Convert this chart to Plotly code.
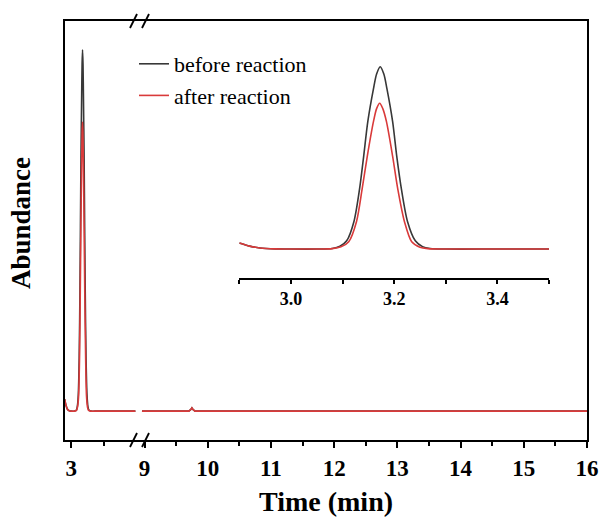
import plotly.graph_objects as go

# ---------------- data ----------------
# peak region, before reaction (black)
t_before = [2.90, 2.92, 2.94, 2.97, 3.00, 3.05, 3.08, 3.095, 3.108, 3.122, 3.133,
            3.141, 3.149, 3.160, 3.166, 3.173, 3.180, 3.186, 3.197, 3.205, 3.214,
            3.226, 3.241, 3.255, 3.27, 3.30, 3.40, 3.50]
a_before = [3.3, 1.6, 0.6, 0.1, 0, 0, 0.3, 1.5, 4.5, 15, 33,
            51, 70, 88, 96, 100, 96, 88, 70, 51, 33,
            15, 4.5, 1.3, 0.3, 0, 0, 0]
# peak region, after reaction (red)
t_after = [2.90, 2.92, 2.94, 2.97, 3.00, 3.05, 3.08, 3.097, 3.112, 3.127, 3.138,
           3.148, 3.160, 3.166, 3.172, 3.178, 3.185, 3.197, 3.207, 3.220, 3.234,
           3.250, 3.265, 3.30, 3.40, 3.50]
a_after = [3.3, 1.6, 0.6, 0.1, 0, 0, 0.2, 1.2, 4, 15, 33,
           51, 70, 77, 80, 77, 70, 51, 33, 15, 4,
           1, 0.2, 0, 0, 0]
# baseline before the axis break
t_tail = [3.6, 3.8, 3.98]
a_tail = [0, 0, 0]
# segment after the axis break (both runs share the baseline)
t_late = [8.96, 9.70, 9.73, 9.75, 9.77, 9.80, 16.0]
a_late = [0, 0, 0.4, 0.9, 0.4, 0, 0]

series_names = ["before reaction", "after reaction"]
inset_ticks = [3.0, 3.2, 3.4]
main_ticks_left = [3]
main_ticks_right = [9, 10, 11, 12, 13, 14, 15, 16]

BLACK = "#383838"
RED = "#d93a3a"
FONT = "Liberation Serif"

# ---------------- geometry helpers ----------------
W, H = 602, 521
ML, MR, MT, MB = 65, 15, 21, 81
PW, PH = W - ML - MR, H - MT - MB


def px(x):
    return (x - ML) / PW


def py(y):
    return (H - MB - y) / PH


BRK = px(139)

fig = go.Figure()

line_b = dict(color=BLACK, width=1.6, shape="spline", smoothing=0.8)
line_r = dict(color=RED, width=1.6, shape="spline", smoothing=0.8)
lin_b = dict(color=BLACK, width=1.6)
lin_r = dict(color=RED, width=1.6)

# main left segment
fig.add_trace(go.Scatter(x=t_before + t_tail, y=a_before + a_tail, mode="lines",
                         line=line_b, name=series_names[0], legendrank=1,
                         xaxis="x", yaxis="y"))
fig.add_trace(go.Scatter(x=t_after + t_tail, y=a_after + a_tail, mode="lines",
                         line=line_r, name=series_names[1], legendrank=2,
                         xaxis="x", yaxis="y"))
# main right segment
fig.add_trace(go.Scatter(x=t_late, y=a_late, mode="lines", line=lin_b,
                         showlegend=False, xaxis="x2", yaxis="y2"))
fig.add_trace(go.Scatter(x=t_late, y=a_late, mode="lines", line=lin_r,
                         showlegend=False, xaxis="x2", yaxis="y2"))
# inset
fig.add_trace(go.Scatter(x=t_before, y=a_before, mode="lines", line=line_b,
                         showlegend=False, xaxis="x3", yaxis="y3"))
fig.add_trace(go.Scatter(x=t_after, y=a_after, mode="lines", line=line_r,
                         showlegend=False, xaxis="x3", yaxis="y3"))

tickfont = dict(family=FONT, size=23, color="black", weight="bold")
yr = [-8.0, 108.0]

fig.update_layout(
    width=W, height=H, autosize=False,
    margin=dict(l=ML, r=MR, t=MT, b=MB, autoexpand=False),
    paper_bgcolor="white", plot_bgcolor="white",
    xaxis=dict(domain=[0, BRK], range=[2.905, 4.035], tickvals=main_ticks_left,
               ticks="outside", ticklen=6, tickwidth=2, tickcolor="black",
               minor=dict(tickvals=[3.5], ticks="outside", ticklen=4, tickwidth=2,
                          tickcolor="black", showgrid=False),
               showline=True, linecolor="black", linewidth=2, mirror=True,
               showgrid=False, zeroline=False, tickfont=tickfont, anchor="y",
               automargin=False),
    xaxis2=dict(domain=[BRK, 1], range=[8.913, 16.0], tickvals=main_ticks_right,
                ticks="outside", ticklen=6, tickwidth=2, tickcolor="black",
                minor=dict(dtick=0.5, tick0=8.5, ticks="outside", ticklen=4,
                           tickwidth=2, tickcolor="black", showgrid=False),
                showline=True, linecolor="black", linewidth=2, mirror=True,
                showgrid=False, zeroline=False, tickfont=tickfont, anchor="y2",
                automargin=False),
    yaxis=dict(domain=[0, 1], range=yr, showticklabels=False, ticks="",
               showline=True, linecolor="black", linewidth=2, showgrid=False,
               zeroline=False, anchor="x", side="left", automargin=False),
    yaxis2=dict(domain=[0, 1], range=yr, showticklabels=False, ticks="",
                showline=True, linecolor="black", linewidth=2, showgrid=False,
                zeroline=False, anchor="x2", side="right", automargin=False),
    xaxis3=dict(domain=[px(239.3), px(549)], range=[2.9, 3.5], tickvals=inset_ticks,
                ticktext=["3.0", "3.2", "3.4"],
                ticks="outside", ticklen=4, tickwidth=1.5, tickcolor="black",
                minor=dict(dtick=0.1, tick0=2.9, ticks="outside", ticklen=4,
                           tickwidth=1.5, tickcolor="black", showgrid=False),
                showline=True, linecolor="black", linewidth=1.5, showgrid=False,
                zeroline=False, anchor="y3", automargin=False,
                tickfont=dict(family=FONT, size=18, color="black", weight="bold")),
    yaxis3=dict(domain=[py(278), py(48.5)], range=[-15.9, 110], visible=False,
                anchor="x3", automargin=False),
    showlegend=True,
    legend=dict(x=px(134), y=py(43), xanchor="left", yanchor="top",
                bgcolor="rgba(0,0,0,0)", borderwidth=0, tracegroupgap=0,
                font=dict(family=FONT, size=22, color="black")),
)

# axis titles
fig.add_annotation(text="Time (min)", x=px(326), y=py(501), xref="paper", yref="paper",
                   showarrow=False, xanchor="center", yanchor="middle",
                   font=dict(family=FONT, size=28, color="black", weight="bold"))
fig.add_annotation(text="Abundance", x=px(21), y=py(223), xref="paper", yref="paper",
                   showarrow=False, xanchor="center", yanchor="middle", textangle=-90,
                   font=dict(family=FONT, size=27, color="black", weight="bold"))

# axis-break marks
for yb in (440, 21):
    for x0 in (130, 142):
        fig.add_shape(type="line", xref="paper", yref="paper",
                      x0=px(x0), y0=py(yb + 7), x1=px(x0 + 7), y1=py(yb - 7),
                      line=dict(color="black", width=1.8))

fig.write_html("out.html", config={"displayModeBar": False},
               post_script="document.body.style.margin='0';document.body.style.overflow='hidden';")
